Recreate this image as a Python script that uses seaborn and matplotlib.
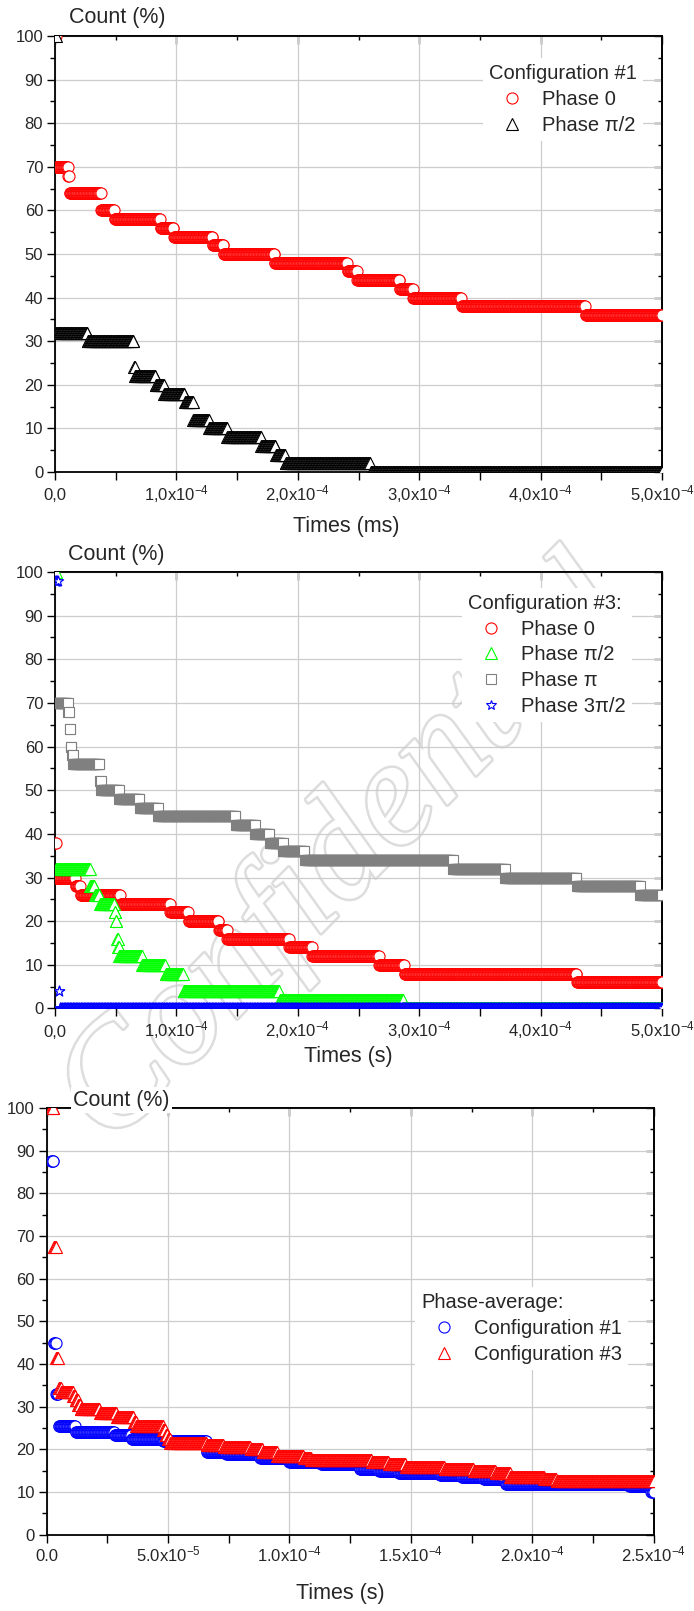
import numpy as np
import matplotlib
matplotlib.use("Agg")
import matplotlib.pyplot as plt
import matplotlib.patheffects as pe
from matplotlib.lines import Line2D
from matplotlib.ticker import MultipleLocator, NullFormatter
import seaborn as sns

# ---------------------------------------------------------------------------
# Data: surviving count (%) as step levels.  Each "start" is the time (µs)
# at which the matching level begins; the series are sampled on a fine grid.
# ---------------------------------------------------------------------------
t_long_us = np.arange(0, 500.25, 0.5)     # panels 1 and 2: 0 .. 500 µs
t_short_us = np.arange(2, 250.1, 0.25)    # panel 3: 2 .. 250 µs

# Configuration #1
c1_phase0_start = [0, 1, 11, 12, 38, 49, 87, 98, 130, 139, 181, 241, 249, 284, 295, 335, 437]
c1_phase0_level = [100, 70, 68, 64, 60, 58, 56, 54, 52, 50, 48, 46, 44, 42, 40, 38, 36]
c1_phase90_start = [0, 1, 27, 65, 66, 83, 90, 107, 114, 127, 142, 170, 182, 190, 260]
c1_phase90_level = [100, 32, 30, 24, 22, 20, 18, 16, 12, 10, 8, 6, 4, 2, 0]

# Configuration #3
c3_phase0_start = [0, 1, 17, 21, 54, 95, 110, 135, 142, 193, 212, 267, 288, 430]
c3_phase0_level = [38, 30, 28, 26, 24, 22, 20, 18, 16, 14, 12, 10, 8, 6]
c3_phase90_start = [0, 1, 29, 33, 37, 49, 50, 51, 52, 53, 72, 91, 106, 185, 287]
c3_phase90_level = [100, 32, 28, 26, 24, 22, 20, 16, 14, 12, 10, 8, 4, 2, 0]
c3_phase180_start = [0, 11, 12, 13, 14, 15, 37, 38, 53, 70, 85, 149, 165, 177, 188,
                     206, 328, 371, 430, 482]
c3_phase180_level = [70, 68, 64, 60, 58, 56, 52, 50, 48, 46, 44, 42, 40, 38, 36,
                     34, 32, 30, 28, 26]
c3_phase270_start = [0, 3, 4]
c3_phase270_level = [98, 4, 0]

# Phase averages
avg_c1_start = [2, 3, 4, 5, 12, 28, 35, 48, 66, 74, 88, 100, 113, 129, 137, 145,
                162, 171, 180, 189, 240, 249]
avg_c1_level = [87.5, 45, 33, 25.5, 24, 23.5, 22.5, 22, 19.5, 19, 18, 17, 16.5,
                15.5, 15, 14.5, 14, 13.5, 13, 12, 11.5, 10]
avg_c3_start = [2, 3, 4, 5, 6, 11, 12, 13, 14, 22, 29, 36, 37, 48, 49, 50, 51, 66,
                73, 84, 89, 95, 106, 109, 134, 141, 148, 164, 176, 185, 191, 205, 210]
avg_c3_level = [100, 67.5, 41.5, 34.5, 33.5, 32.5, 31.5, 30.5, 29.5, 28.5, 27.5,
                26.5, 25.5, 24.5, 23.5, 22.5, 21.5, 21, 20.5, 20, 19.5, 18.5, 18,
                17.5, 17, 16.5, 16, 15.5, 15, 14.5, 13.5, 13, 12.5]

# Tick labels
y_ticks = [0, 10, 20, 30, 40, 50, 60, 70, 80, 90, 100]
y_tick_labels = ["0", "10", "20", "30", "40", "50", "60", "70", "80", "90", "100"]
x_ticks_long = [0, 1e-4, 2e-4, 3e-4, 4e-4, 5e-4]
x_tick_labels_long = ["0,0", r"1,0x10$^{-4}$", r"2,0x10$^{-4}$", r"3,0x10$^{-4}$",
                      r"4,0x10$^{-4}$", r"5,0x10$^{-4}$"]
x_ticks_short = [0, 5e-5, 1e-4, 1.5e-4, 2e-4, 2.5e-4]
x_tick_labels_short = ["0.0", r"5.0x10$^{-5}$", r"1.0x10$^{-4}$", r"1.5x10$^{-4}$",
                       r"2.0x10$^{-4}$", r"2.5x10$^{-4}$"]

# ---------------------------------------------------------------------------
sns.set_style("white")
plt.rcParams["font.family"] = ["Liberation Sans", "DejaVu Sans"]
plt.rcParams["mathtext.fontset"] = "custom"
plt.rcParams["mathtext.rm"] = "Liberation Sans"
plt.rcParams["mathtext.it"] = "Liberation Sans:italic"
plt.rcParams["mathtext.default"] = "regular"

RED, BLACK, GREEN, GREY, BLUE = "#ff0000", "#000000", "#00ff00", "#808080", "#0000ff"
MSIZE = {"o": 8.0, "^": 8.6, "s": 7.6, "*": 7.8}
EDGE_W = 0.8
TICK_FS = 12
LABEL_FS = 15.5
LEGEND_FS = 14.5


def step_series(t_us, starts, levels):
    idx = np.searchsorted(np.asarray(starts), t_us, side="right") - 1
    return np.asarray(levels, dtype=float)[idx]


def draw_series(ax, t_us, starts, levels, marker, color):
    y = step_series(t_us, starts, levels)
    sns.scatterplot(x=t_us * 1e-6, y=y, marker=marker, s=MSIZE[marker] ** 2,
                    facecolor="white", edgecolor=color, linewidth=EDGE_W,
                    ax=ax, legend=False, zorder=3)


def style_axes(ax, xmax, xticks, xticklabels, xminor, xlabel, xlabel_xy,
               count_xy, xlabel_pad):
    ax.set_facecolor("none")
    ax.set_xlim(0, xmax)
    ax.set_ylim(0, 100)
    ax.set_xticks(xticks)
    ax.set_xticklabels(xticklabels)
    ax.xaxis.set_minor_locator(MultipleLocator(xminor))
    ax.set_yticks(y_ticks)
    ax.set_yticklabels(y_tick_labels)
    ax.yaxis.set_minor_locator(MultipleLocator(5))
    ax.grid(True, which="major", color="#cdcdcd", lw=0.9)
    ax.set_axisbelow(True)
    for sp in ax.spines.values():
        sp.set_color("black")
        sp.set_linewidth(1.3)

    ax.tick_params(axis="y", which="both", direction="out", left=True, right=False,
                   width=1.0, color="black", labelsize=TICK_FS, pad=3)
    ax.tick_params(axis="y", which="major", length=5.5)
    ax.tick_params(axis="y", which="minor", length=3.5)
    ax.tick_params(axis="x", which="both", direction="out", bottom=True, top=False,
                   width=1.0, length=5.5, color="black", labelsize=TICK_FS,
                   pad=xlabel_pad)
    for lab in ax.get_xticklabels():
        lab.set_va("baseline")

    # inward ticks on the top and right edges
    top = ax.secondary_xaxis("top")
    top.set_xticks(xticks)
    top.xaxis.set_minor_locator(MultipleLocator(xminor))
    top.xaxis.set_major_formatter(NullFormatter())
    top.tick_params(axis="x", which="both", direction="in", width=1.0, color="black")
    top.tick_params(axis="x", which="major", length=5.5)
    top.tick_params(axis="x", which="minor", length=3.0)
    top.spines["top"].set_linewidth(1.3)
    right = ax.secondary_yaxis("right")
    right.set_yticks(y_ticks)
    right.yaxis.set_minor_locator(MultipleLocator(5))
    right.yaxis.set_major_formatter(NullFormatter())
    right.tick_params(axis="y", which="both", direction="in", width=1.0, color="black")
    right.tick_params(axis="y", which="major", length=5.5)
    right.tick_params(axis="y", which="minor", length=3.0)
    right.spines["right"].set_linewidth(1.3)

    ax.set_xlabel(xlabel, fontsize=LABEL_FS)
    ax.xaxis.label.set_va("center")
    ax.xaxis.set_label_coords(*xlabel_xy)
    ax.text(count_xy[0], count_xy[1], "Count (%)", transform=ax.transAxes,
            ha="left", va="center", fontsize=LABEL_FS, zorder=6,
            bbox=dict(facecolor="white", edgecolor="none", pad=1.5))


def add_legend(ax, title, entries, anchor):
    handles = [Line2D([], [], ls="none", marker=m, ms=MSIZE[m], mfc="white",
                      mec=c, mew=EDGE_W, label=lab) for lab, m, c in entries]
    ax.legend(handles=handles, title=title, loc="upper left", bbox_to_anchor=anchor,
              borderaxespad=0, frameon=True, fancybox=False, framealpha=1,
              facecolor="white", edgecolor="none", fontsize=LEGEND_FS,
              title_fontsize=LEGEND_FS, alignment="left", handlelength=2.3,
              handletextpad=0.35, labelspacing=0.33, borderpad=0.3, numpoints=1)


fig = plt.figure(figsize=(6.94, 16.11), dpi=100)

# outlined watermark behind the three panels
fig.text(0.500, 0.470, "Confidential", rotation=45.5, rotation_mode="anchor",
         ha="center", va="center", fontsize=108, family="Liberation Serif",
         style="italic", color="white", zorder=-1,
         path_effects=[pe.Stroke(linewidth=3.6, foreground="#dddddd"), pe.Normal()])

ax1 = fig.add_axes([0.0793, 0.7070, 0.8746, 0.2706])
ax2 = fig.add_axes([0.0793, 0.3740, 0.8746, 0.2710])
ax3 = fig.add_axes([0.0671, 0.0473, 0.8749, 0.2649])

# Panel 1: configuration #1
draw_series(ax1, t_long_us, c1_phase0_start, c1_phase0_level, "o", RED)
draw_series(ax1, t_long_us, c1_phase90_start, c1_phase90_level, "^", BLACK)
style_axes(ax1, 5e-4, x_ticks_long, x_tick_labels_long, 5e-5, "Times (ms)",
           (0.479, -0.126), (0.023, 1.0436), 14.7)
add_legend(ax1, "Configuration #1",
           [("Phase 0", "o", RED), ("Phase \u03c0/2", "^", BLACK)], (0.705, 0.949))

# Panel 2: configuration #3
draw_series(ax2, t_long_us, c3_phase0_start, c3_phase0_level, "o", RED)
draw_series(ax2, t_long_us, c3_phase90_start, c3_phase90_level, "^", GREEN)
draw_series(ax2, t_long_us, c3_phase180_start, c3_phase180_level, "s", GREY)
draw_series(ax2, t_long_us, c3_phase270_start, c3_phase270_level, "*", BLUE)
style_axes(ax2, 5e-4, x_ticks_long, x_tick_labels_long, 5e-5, "Times (s)",
           (0.483, -0.111), (0.022, 1.039), 14.7)
add_legend(ax2, "Configuration #3:",
           [("Phase 0", "o", RED), ("Phase \u03c0/2", "^", GREEN),
            ("Phase \u03c0", "s", GREY), ("Phase 3\u03c0/2", "*", BLUE)],
           (0.6705, 0.963))

# Panel 3: phase averages
draw_series(ax3, t_short_us, avg_c1_start, avg_c1_level, "o", BLUE)
draw_series(ax3, t_short_us, avg_c3_start, avg_c3_level, "^", RED)
style_axes(ax3, 2.5e-4, x_ticks_short, x_tick_labels_short, 2.5e-5, "Times (s)",
           (0.483, -0.1387), (0.0435, 1.0187), 13.3)
add_legend(ax3, "Phase-average:",
           [("Configuration #1", "o", BLUE), ("Configuration #3", "^", RED)],
           (0.6067, 0.580))

fig.savefig("out.png", dpi=100)
